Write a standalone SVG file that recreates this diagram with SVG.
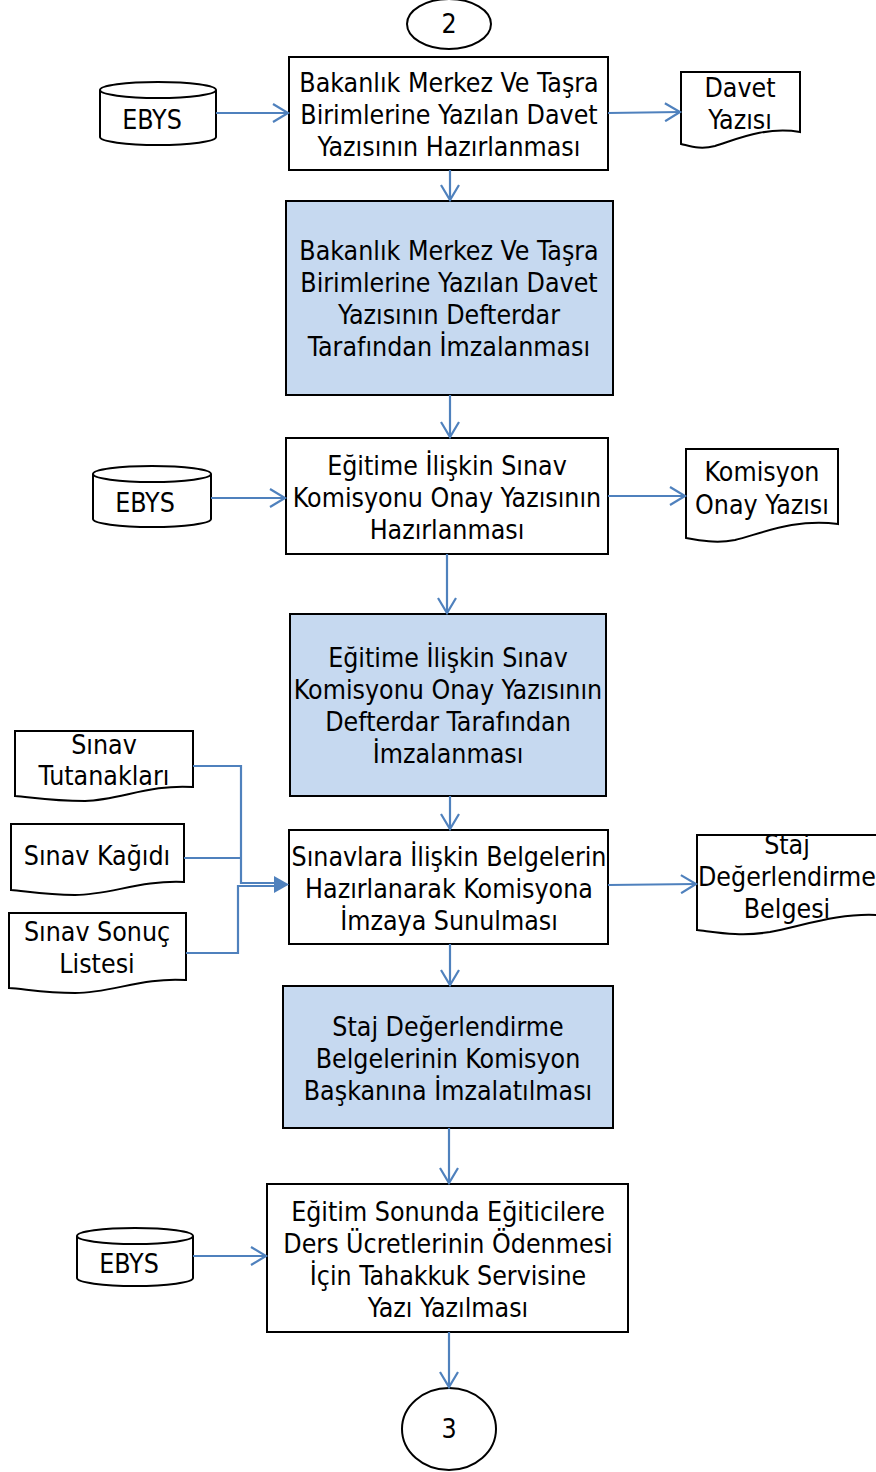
<svg xmlns="http://www.w3.org/2000/svg" width="876" height="1472" viewBox="0 0 876 1472">
<style>
.box{fill:#fff;stroke:#000;stroke-width:2}
.blue{fill:#c6d9f0;stroke:#000;stroke-width:2}
.shape{fill:#fff;stroke:#000;stroke-width:2}
.t{font-family:"DejaVu Sans Condensed","DejaVu Sans",sans-serif;font-size:26.5px;fill:#000;text-anchor:middle}
.c{fill:none;stroke:#4f81bd;stroke-width:2.2}
</style>
<defs>
<marker id="a" viewBox="0 0 20 20" refX="17" refY="10" markerWidth="20" markerHeight="20" markerUnits="userSpaceOnUse" orient="auto">
<path d="M2,1 L17,10 L2,19" fill="none" stroke="#4f81bd" stroke-width="2.2"/>
</marker>
</defs>
<g id="start2">
<ellipse class="shape" cx="449" cy="24" rx="42" ry="25"/>
<text class="t" x="449" y="33">2</text>
</g>
<g id="ebys1">
<path class="shape" d="M100,90 A58,8 0 0 1 216,90 V137 A58,8 0 0 1 100,137 Z"/>
<path class="shape" d="M100,90 A58,8 0 0 0 216,90"/>
<text class="t" x="152" y="129">EBYS</text>
</g>
<g id="box1">
<rect class="box" x="289" y="57" width="319" height="113"/>
<text class="t" x="449" y="92">Bakanlık Merkez Ve Taşra</text>
<text class="t" x="449" y="124">Birimlerine Yazılan Davet</text>
<text class="t" x="449" y="156">Yazısının Hazırlanması</text>
</g>
<g id="doc1">
<path class="shape" d="M681,72 H800 V132 C765,126 735,140 715,146 C700,150 690,146 681,144 Z"/>
<text class="t" x="740" y="97">Davet</text>
<text class="t" x="740" y="129">Yazısı</text>
</g>
<g id="box2">
<rect class="blue" x="286" y="201" width="327" height="194"/>
<text class="t" x="449" y="260">Bakanlık Merkez Ve Taşra</text>
<text class="t" x="449" y="292">Birimlerine Yazılan Davet</text>
<text class="t" x="449" y="324">Yazısının Defterdar</text>
<text class="t" x="449" y="356">Tarafından İmzalanması</text>
</g>
<g id="ebys2">
<path class="shape" d="M93,474 A59,8 0 0 1 211,474 V519 A59,8 0 0 1 93,519 Z"/>
<path class="shape" d="M93,474 A59,8 0 0 0 211,474"/>
<text class="t" x="145" y="512">EBYS</text>
</g>
<g id="box3">
<rect class="box" x="286" y="438" width="322" height="116"/>
<text class="t" x="447" y="475">Eğitime İlişkin Sınav</text>
<text class="t" x="447" y="507">Komisyonu Onay Yazısının</text>
<text class="t" x="447" y="539">Hazırlanması</text>
</g>
<g id="doc2">
<path class="shape" d="M686,449 H838 V524 C795,518 760,534 735,540 C715,544 700,540 686,538 Z"/>
<text class="t" x="762" y="481">Komisyon</text>
<text class="t" x="762" y="514">Onay Yazısı</text>
</g>
<g id="box4">
<rect class="blue" x="290" y="614" width="316" height="182"/>
<text class="t" x="448" y="667">Eğitime İlişkin Sınav</text>
<text class="t" x="448" y="699">Komisyonu Onay Yazısının</text>
<text class="t" x="448" y="731">Defterdar Tarafından</text>
<text class="t" x="448" y="763">İmzalanması</text>
</g>
<g id="doc3">
<path class="shape" d="M15,731 H193 V787 C150,784 120,800 85,801 C50,801 30,797 15,796 Z"/>
<text class="t" x="104" y="754">Sınav</text>
<text class="t" x="104" y="785">Tutanakları</text>
</g>
<g id="doc4">
<path class="shape" d="M11,824 H184 V882 C140,880 110,895 75,895 C45,895 25,891 11,890 Z"/>
<text class="t" x="97" y="865">Sınav Kağıdı</text>
</g>
<g id="doc5">
<path class="shape" d="M9,913 H186 V980 C142,977 112,993 75,993 C45,993 25,989 9,988 Z"/>
<text class="t" x="97" y="941">Sınav Sonuç</text>
<text class="t" x="97" y="973">Listesi</text>
</g>
<g id="box5">
<rect class="box" x="289" y="830" width="319" height="114"/>
<text class="t" x="449" y="866">Sınavlara İlişkin Belgelerin</text>
<text class="t" x="449" y="898">Hazırlanarak Komisyona</text>
<text class="t" x="449" y="930">İmzaya Sunulması</text>
</g>
<g id="doc6">
<path class="shape" d="M697,835 H877 V915 C840,913 805,925 770,932 C740,937 715,932 697,930 Z"/>
<text class="t" x="787" y="854">Staj</text>
<text class="t" x="787" y="886">Değerlendirme</text>
<text class="t" x="787" y="918">Belgesi</text>
</g>
<g id="box6">
<rect class="blue" x="283" y="986" width="330" height="142"/>
<text class="t" x="448" y="1036">Staj Değerlendirme</text>
<text class="t" x="448" y="1068">Belgelerinin Komisyon</text>
<text class="t" x="448" y="1100">Başkanına İmzalatılması</text>
</g>
<g id="ebys3">
<path class="shape" d="M77,1236 A58,8 0 0 1 193,1236 V1278 A58,8 0 0 1 77,1278 Z"/>
<path class="shape" d="M77,1236 A58,8 0 0 0 193,1236"/>
<text class="t" x="129" y="1273">EBYS</text>
</g>
<g id="box7">
<rect class="box" x="267" y="1184" width="361" height="148"/>
<text class="t" x="448" y="1221">Eğitim Sonunda Eğiticilere</text>
<text class="t" x="448" y="1253">Ders Ücretlerinin Ödenmesi</text>
<text class="t" x="448" y="1285">İçin Tahakkuk Servisine</text>
<text class="t" x="448" y="1317">Yazı Yazılması</text>
</g>
<g id="end3">
<ellipse class="shape" cx="449" cy="1429" rx="47" ry="41"/>
<text class="t" x="449" y="1438">3</text>
</g>
<g id="connectors">
<line class="c" x1="216" y1="113" x2="288" y2="113" marker-end="url(#a)"/>
<line class="c" x1="608" y1="113" x2="680" y2="112" marker-end="url(#a)"/>
<line class="c" x1="450" y1="170" x2="450" y2="200" marker-end="url(#a)"/>
<line class="c" x1="450" y1="395" x2="450" y2="437" marker-end="url(#a)"/>
<line class="c" x1="211" y1="498" x2="285" y2="498" marker-end="url(#a)"/>
<line class="c" x1="608" y1="496" x2="685" y2="496" marker-end="url(#a)"/>
<line class="c" x1="447" y1="554" x2="447" y2="613" marker-end="url(#a)"/>
<line class="c" x1="450" y1="796" x2="450" y2="829" marker-end="url(#a)"/>
<line class="c" x1="608" y1="885" x2="696" y2="884" marker-end="url(#a)"/>
<line class="c" x1="450" y1="944" x2="450" y2="985" marker-end="url(#a)"/>
<line class="c" x1="449" y1="1128" x2="449" y2="1183" marker-end="url(#a)"/>
<line class="c" x1="193" y1="1256" x2="266" y2="1256" marker-end="url(#a)"/>
<line class="c" x1="449" y1="1332" x2="449" y2="1387" marker-end="url(#a)"/>
<polyline class="c" points="193,766 241,766 241,883 276,883"/>
<polyline class="c" points="184,858 241,858"/>
<polyline class="c" points="186,953 238,953 238,886 276,886"/>
<path d="M274,876 L289,884.5 L274,893 Z" fill="#4f81bd"/>
</g>
</svg>
